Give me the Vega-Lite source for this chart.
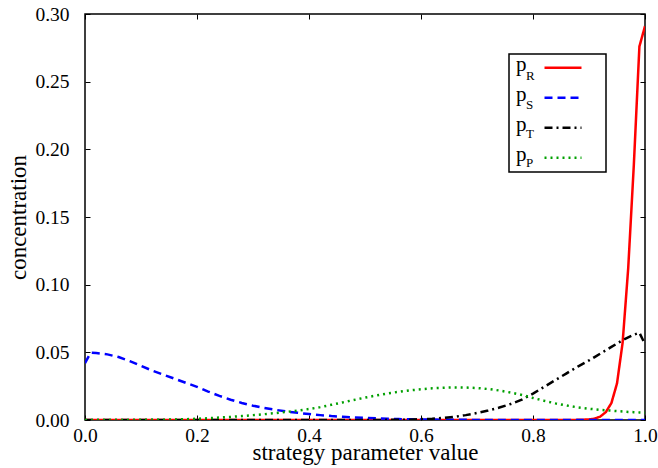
{
  "$schema": "https://vega.github.io/schema/vega-lite/v6.json",
  "width": 560,
  "height": 406,
  "autosize": {"type": "none"},
  "padding": {"left": 85, "top": 14, "right": 13, "bottom": 48},
  "background": "white",
  "config": {
    "view": {"stroke": "black", "strokeWidth": 1.5},
    "font": "Liberation Serif",
    "axis": {
      "domain": false,
      "grid": false,
      "ticks": true,
      "tickSize": -5,
      "tickColor": "black",
      "tickWidth": 1,
      "labelFont": "Liberation Serif",
      "labelFontSize": 19.5,
      "labelColor": "black",
      "titleFont": "Liberation Serif",
      "titleFontWeight": "normal",
      "titleColor": "black",
      "labelFlush": false,
      "labelOverlap": false
    },
    "legend": {"strokeWidth": 1.5}
  },
  "data": {
    "values": [
      {"x": 0.00, "R": 0, "S": 0.0420, "T": 0, "P": 0},
      {"x": 0.01, "R": 0, "S": 0.0497, "T": 0, "P": 0},
      {"x": 0.02, "R": 0, "S": 0.0495, "T": 0, "P": 0.00001},
      {"x": 0.04, "R": 0, "S": 0.0485, "T": 0, "P": 0.00002},
      {"x": 0.06, "R": 0, "S": 0.0465, "T": 0, "P": 0.00003},
      {"x": 0.08, "R": 0, "S": 0.0435, "T": 0, "P": 0.00005},
      {"x": 0.10, "R": 0, "S": 0.0400, "T": 0, "P": 0.0001},
      {"x": 0.12, "R": 0, "S": 0.0365, "T": 0, "P": 0.00015},
      {"x": 0.14, "R": 0, "S": 0.0335, "T": 0, "P": 0.00025},
      {"x": 0.16, "R": 0, "S": 0.0305, "T": 0, "P": 0.0004},
      {"x": 0.18, "R": 0, "S": 0.0275, "T": 0, "P": 0.0006},
      {"x": 0.20, "R": 0, "S": 0.0245, "T": 0, "P": 0.0009},
      {"x": 0.22, "R": 0, "S": 0.0210, "T": 0, "P": 0.0013},
      {"x": 0.24, "R": 0, "S": 0.0178, "T": 0, "P": 0.0018},
      {"x": 0.26, "R": 0, "S": 0.0150, "T": 0, "P": 0.0023},
      {"x": 0.28, "R": 0, "S": 0.0126, "T": 0, "P": 0.0029},
      {"x": 0.30, "R": 0, "S": 0.0106, "T": 0, "P": 0.0036},
      {"x": 0.32, "R": 0, "S": 0.0089, "T": 0, "P": 0.0043},
      {"x": 0.34, "R": 0, "S": 0.0075, "T": 0, "P": 0.0051},
      {"x": 0.36, "R": 0, "S": 0.0063, "T": 0, "P": 0.0060},
      {"x": 0.38, "R": 0, "S": 0.0053, "T": 0, "P": 0.0070},
      {"x": 0.40, "R": 0, "S": 0.0044, "T": 0, "P": 0.0081},
      {"x": 0.42, "R": 0, "S": 0.0036, "T": 0, "P": 0.0095},
      {"x": 0.44, "R": 0, "S": 0.0029, "T": 0, "P": 0.0112},
      {"x": 0.46, "R": 0, "S": 0.0024, "T": 0, "P": 0.0130},
      {"x": 0.48, "R": 0, "S": 0.0019, "T": 0, "P": 0.0148},
      {"x": 0.50, "R": 0, "S": 0.0015, "T": 0.00003, "P": 0.0165},
      {"x": 0.52, "R": 0, "S": 0.0012, "T": 0.00005, "P": 0.0181},
      {"x": 0.54, "R": 0, "S": 0.0009, "T": 0.0001, "P": 0.0196},
      {"x": 0.56, "R": 0, "S": 0.0007, "T": 0.00015, "P": 0.0208},
      {"x": 0.58, "R": 0, "S": 0.0005, "T": 0.00025, "P": 0.0219},
      {"x": 0.60, "R": 0, "S": 0.0004, "T": 0.0006, "P": 0.0227},
      {"x": 0.62, "R": 0, "S": 0.0003, "T": 0.0010, "P": 0.0234},
      {"x": 0.64, "R": 0, "S": 0.0002, "T": 0.0016, "P": 0.0238},
      {"x": 0.66, "R": 0, "S": 0.00015, "T": 0.0024, "P": 0.0241},
      {"x": 0.68, "R": 0, "S": 0.0001, "T": 0.0036, "P": 0.0240},
      {"x": 0.70, "R": 0, "S": 0.00007, "T": 0.0052, "P": 0.0236},
      {"x": 0.72, "R": 0, "S": 0.00005, "T": 0.0070, "P": 0.0229},
      {"x": 0.74, "R": 0, "S": 0.00003, "T": 0.0092, "P": 0.0218},
      {"x": 0.76, "R": 0, "S": 0.00002, "T": 0.0118, "P": 0.0203},
      {"x": 0.78, "R": 0, "S": 0.00001, "T": 0.0150, "P": 0.0185},
      {"x": 0.80, "R": 0, "S": 0, "T": 0.0195, "P": 0.0163},
      {"x": 0.82, "R": 0, "S": 0, "T": 0.0245, "P": 0.0142},
      {"x": 0.84, "R": 0, "S": 0, "T": 0.0295, "P": 0.0123},
      {"x": 0.86, "R": 0, "S": 0, "T": 0.0345, "P": 0.0107},
      {"x": 0.88, "R": 0.0001, "S": 0, "T": 0.0395, "P": 0.0093},
      {"x": 0.90, "R": 0.0004, "S": 0, "T": 0.0440, "P": 0.0083},
      {"x": 0.91, "R": 0.0010, "S": 0, "T": 0.0465, "P": 0.0079},
      {"x": 0.92, "R": 0.0025, "S": 0, "T": 0.0490, "P": 0.0075},
      {"x": 0.93, "R": 0.0058, "S": 0, "T": 0.0515, "P": 0.0072},
      {"x": 0.94, "R": 0.0125, "S": 0, "T": 0.0540, "P": 0.0069},
      {"x": 0.95, "R": 0.0270, "S": 0, "T": 0.0565, "P": 0.0066},
      {"x": 0.96, "R": 0.0570, "S": 0, "T": 0.0590, "P": 0.0063},
      {"x": 0.97, "R": 0.1120, "S": 0, "T": 0.0610, "P": 0.0060},
      {"x": 0.98, "R": 0.1880, "S": 0, "T": 0.0630, "P": 0.0058},
      {"x": 0.99, "R": 0.2760, "S": 0, "T": 0.0645, "P": 0.0056},
      {"x": 1.00, "R": 0.2910, "S": 0, "T": 0.0560, "P": 0.0054}
    ]
  },
  "transform": [{"fold": ["R", "S", "T", "P"], "as": ["s", "v"]}],
  "layer": [
    {
      "mark": {"type": "line", "strokeWidth": 2.5, "clip": true},
      "encoding": {
        "x": {
          "field": "x", "type": "quantitative",
          "scale": {"domain": [0, 1], "nice": false},
          "axis": {"orient": "bottom", "values": [0, 0.2, 0.4, 0.6, 0.8, 1], "format": ".1f", "title": "strategy parameter value", "titleFontSize": 23, "labelPadding": 11, "titlePadding": -3}
        },
        "y": {
          "field": "v", "type": "quantitative",
          "scale": {"domain": [0, 0.3], "nice": false},
          "axis": {"orient": "left", "values": [0, 0.05, 0.1, 0.15, 0.2, 0.25, 0.3], "format": ".2f", "title": "concentration", "titleFontSize": 23, "labelPadding": 21, "titlePadding": 4}
        },
        "color": {
          "field": "s", "type": "nominal",
          "scale": {"domain": ["R", "S", "T", "P"], "range": ["#ff0000", "#0000ff", "#000000", "#00a000"]},
          "legend": {"title": null, "orient": "none", "legendX": 424, "legendY": 37.5, "padding": 3, "symbolType": "M-2,0.3H2", "symbolSize": 342, "symbolStrokeWidth": 2.5, "symbolFillColor": "transparent", "symbolOffset": 40.5, "labelOffset": -57.5, "labelExpr": "'p'", "labelFont": "Liberation Serif", "labelFontSize": 21, "labelColor": "black", "rowPadding": 8}
        },
        "strokeDash": {
          "field": "s", "type": "nominal",
          "scale": {"domain": ["R", "S", "T", "P"], "range": [[1, 0], [8, 5], [8, 4, 2, 4], [2, 4]]},
          "legend": {"title": null, "orient": "none", "legendX": 424, "legendY": 37.5, "padding": 3, "symbolType": "M-2,0.3H2", "symbolSize": 342, "symbolStrokeWidth": 2.5, "symbolFillColor": "transparent", "symbolOffset": 40.5, "labelOffset": -57.5, "labelExpr": "'p'", "labelFont": "Liberation Serif", "labelFontSize": 21, "labelColor": "black", "rowPadding": 8}
        },
        "opacity": {
          "field": "s", "type": "nominal",
          "sort": ["R", "S", "T", "P"],
          "scale": {"type": "ordinal", "range": [1, 1, 1, 1]},
          "legend": {"title": null, "orient": "none", "legendX": 424, "legendY": 40, "padding": 1, "clipHeight": 29, "strokeColor": "black", "symbolType": "stroke", "symbolSize": 3600, "symbolStrokeColor": "transparent", "symbolFillColor": "transparent", "symbolOffset": 18, "labelOffset": -64, "labelExpr": "datum.label + '\u2800\u2800\u2800\u2800\u2800\u2800\u2800'", "labelLimit": 300, "labelBaseline": "top", "labelFont": "Liberation Serif", "labelFontSize": 13, "labelColor": "black", "rowPadding": 0}
        }
      }
    },
    {
      "mark": {"type": "line", "opacity": 0},
      "encoding": {
        "x": {"field": "x", "type": "quantitative", "axis": {"orient": "top", "values": [0, 0.2, 0.4, 0.6, 0.8, 1], "labels": false, "title": null}},
        "y": {"field": "v", "type": "quantitative", "axis": {"orient": "right", "values": [0, 0.05, 0.1, 0.15, 0.2, 0.25, 0.3], "labels": false, "title": null}}
      }
    }
  ],
  "resolve": {"axis": {"x": "independent", "y": "independent"}}
}
